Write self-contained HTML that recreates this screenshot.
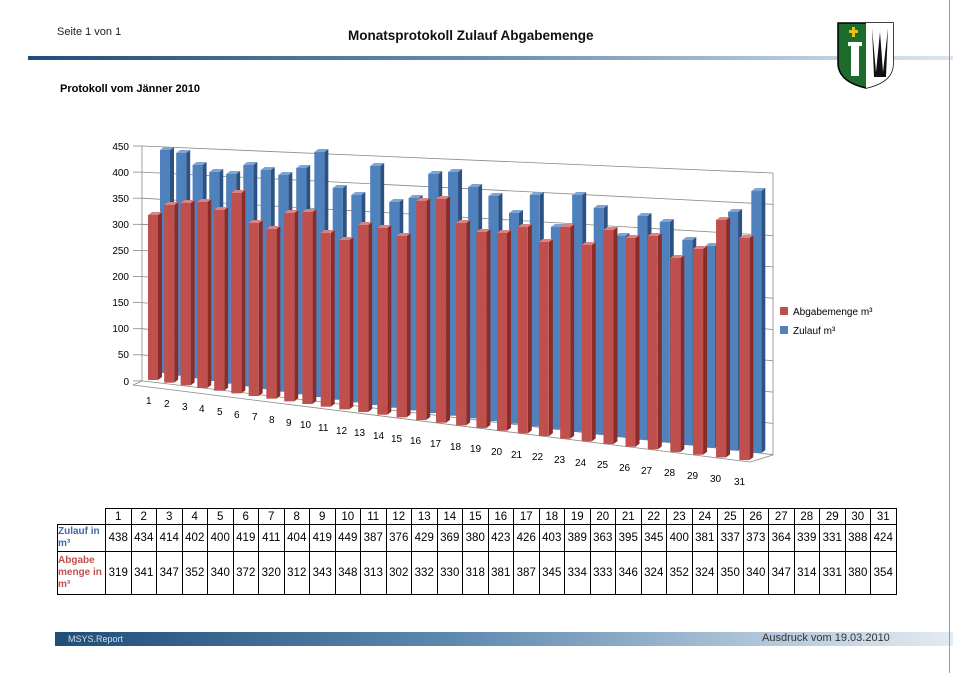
<!DOCTYPE html>
<html><head><meta charset="utf-8"><style>
body{margin:0;width:953px;height:673px;background:#fff;position:relative;overflow:hidden;font-family:"Liberation Sans",sans-serif}
.a{position:absolute;white-space:nowrap}
table{position:absolute;left:57px;top:508px;border-collapse:collapse;font-size:11.5px}
td{border:1px solid #000;padding:0;text-align:center;width:24.5px;height:15px}
td.h{width:47px;text-align:left;font-weight:bold;font-size:10px;line-height:12px}
</style></head><body>
<div class="a" style="left:57px;top:26px;font-size:11px;color:#222">Seite 1 von 1</div>
<div class="a" style="left:348px;top:28px;font-size:13.5px;font-weight:bold;color:#111">Monatsprotokoll Zulauf Abgabemenge</div>
<div class="a" style="left:28px;top:56px;width:925px;height:4px;background:linear-gradient(90deg,#1f4e79,#6a8fb0 50%,#dde6ee)"></div>
<div class="a" style="left:60px;top:83px;font-size:11px;font-weight:bold">Protokoll vom Jänner 2010</div>
<svg class="a" style="left:836px;top:22px" width="60" height="68"><path d="M2,1H57V42Q57,60 30,66Q3,60 2,42Z" fill="#1e6b2e" stroke="#000" stroke-width="1.5"/><path d="M30,1H57V42Q57,60 30,66Z" fill="#fff"/><rect x="12" y="20" width="14" height="4" fill="#fff"/><rect x="15" y="24" width="8" height="30" fill="#fff"/><rect x="16" y="5" width="3" height="10" fill="#e8c21b"/><rect x="13" y="8" width="9" height="3" fill="#e8c21b"/><path d="M36,6L40,50L44,10L47,50L52,6L50,55H38Z" fill="#111"/></svg>
<svg class="a" style="left:0;top:0" width="953" height="500" id="c">
<polygon points="142,146 773,173 773,455 142,381" fill="#fff"/>
<g stroke="#888" stroke-width="0.8" fill="none" id="g"></g>
<g id="b"></g>
<g font-size="10" fill="#000" text-anchor="end">
<text x="129" y="150">450</text><text x="129" y="176">400</text><text x="129" y="202">350</text><text x="129" y="228">300</text><text x="129" y="254">250</text><text x="129" y="280">200</text><text x="129" y="306">150</text><text x="129" y="332">100</text><text x="129" y="358">50</text><text x="129" y="385">0</text>
</g>
<g font-size="10" fill="#000" id="l">
<text x="146" y="404">1</text><text x="164" y="407">2</text><text x="182" y="410">3</text><text x="199" y="412">4</text><text x="217" y="415">5</text><text x="234" y="418">6</text><text x="252" y="420">7</text><text x="269" y="423">8</text><text x="286" y="426">9</text><text x="300" y="428">10</text><text x="318" y="431">11</text><text x="336" y="434">12</text><text x="354" y="436">13</text><text x="373" y="439">14</text><text x="391" y="442">15</text><text x="410" y="444">16</text><text x="430" y="447">17</text><text x="450" y="450">18</text><text x="470" y="452">19</text><text x="491" y="455">20</text><text x="511" y="458">21</text><text x="532" y="460">22</text><text x="554" y="463">23</text><text x="575" y="466">24</text><text x="597" y="468">25</text><text x="619" y="471">26</text><text x="641" y="474">27</text><text x="664" y="476">28</text><text x="687" y="479">29</text><text x="710" y="482">30</text><text x="734" y="485">31</text>
</g>
<rect x="780" y="307" width="8" height="8" fill="#c0504d"/><text x="793" y="315" font-size="10">Abgabemenge m³</text>
<rect x="780" y="326" width="8" height="8" fill="#4f81bd"/><text x="793" y="334" font-size="10">Zulauf m³</text>
</svg>
<table>
<tr><td class="h" style="border-left:none;border-top:none"></td><td>1</td><td>2</td><td>3</td><td>4</td><td>5</td><td>6</td><td>7</td><td>8</td><td>9</td><td>10</td><td>11</td><td>12</td><td>13</td><td>14</td><td>15</td><td>16</td><td>17</td><td>18</td><td>19</td><td>20</td><td>21</td><td>22</td><td>23</td><td>24</td><td>25</td><td>26</td><td>27</td><td>28</td><td>29</td><td>30</td><td>31</td></tr>
<tr style="height:27px"><td class="h" style="color:#3a6aa8">Zulauf in m³</td><td>438</td><td>434</td><td>414</td><td>402</td><td>400</td><td>419</td><td>411</td><td>404</td><td>419</td><td>449</td><td>387</td><td>376</td><td>429</td><td>369</td><td>380</td><td>423</td><td>426</td><td>403</td><td>389</td><td>363</td><td>395</td><td>345</td><td>400</td><td>381</td><td>337</td><td>373</td><td>364</td><td>339</td><td>331</td><td>388</td><td>424</td></tr>
<tr style="height:43px"><td class="h" style="color:#c0504d">Abgabe menge in m³</td><td>319</td><td>341</td><td>347</td><td>352</td><td>340</td><td>372</td><td>320</td><td>312</td><td>343</td><td>348</td><td>313</td><td>302</td><td>332</td><td>330</td><td>318</td><td>381</td><td>387</td><td>345</td><td>334</td><td>333</td><td>346</td><td>324</td><td>352</td><td>324</td><td>350</td><td>340</td><td>347</td><td>314</td><td>331</td><td>380</td><td>354</td></tr>
</table>
<div class="a" style="left:55px;top:632px;width:898px;height:14px;background:linear-gradient(90deg,#1f4e79,#5f8ab0 45%,#e3ebf2)"></div>
<div class="a" style="left:68px;top:634px;font-size:9px;color:#dde">MSYS.Report</div>
<div class="a" style="left:762px;top:632px;font-size:11px;color:#333">Ausdruck vom 19.03.2010</div>
<div class="a" style="left:949px;top:0;width:1px;height:673px;background:#999"></div>
<script>
var ns="http://www.w3.org/2000/svg",g=document.getElementById('g'),b=document.getElementById('b');
function el(p,t,a){var e=document.createElementNS(ns,t);for(var k in a)e.setAttribute(k,a[k]);p.appendChild(e);return e;}
for(var i=0;i<10;i++){el(g,'line',{x1:142,y1:146+i*26.1,x2:773,y2:173+i*31.3});el(g,'line',{x1:133,y1:146+i*26.1,x2:142,y2:146+i*26.1});}
el(g,'line',{x1:142,y1:146,x2:142,y2:381});el(g,'line',{x1:773,y1:173,x2:773,y2:455});
el(g,'line',{x1:133,y1:385,x2:750,y2:462});el(g,'line',{x1:750,y1:462,x2:773,y2:455});el(g,'line',{x1:133,y1:385,x2:142,y2:381});
var R=[215,205,203,202,210,193,223,229,213,212,233,240,225,228,236,201,199,223,232,233,227,242,227,245,230,238,236,258,249,220,238];
var B=[150,153,165,172,174,165,170,175,168,152,188,195,166,202,198,174,172,187,196,213,195,227,195,208,236,216,222,240,246,212,191];
function bar(x,top,bot,f,s,t){var w=10,d=4;
el(b,'polygon',{points:[x+w,top,x+w+d,top-3,x+w+d,bot-3,x+w,bot].join(','),fill:s});
el(b,'rect',{x:x,y:top,width:w,height:bot-top,fill:f});
el(b,'polygon',{points:[x,top,x+d,top-3,x+w+d,top-3,x+w,top].join(','),fill:t});}
function cx(k){return 154+16.05*k+0.122*k*k;}
for(var k=0;k<31;k++){var x=cx(k)+6,bot=380+k*2.67-7;bar(x,B[k],bot,'#4f81bd','#2c5284','#7fa4d4');}
for(var k=0;k<31;k++){var x=cx(k)-6,bot=380+k*2.67;bar(x,R[k],bot,'#c0504d','#8a2d2a','#d98482');}
</script>
</body></html>
